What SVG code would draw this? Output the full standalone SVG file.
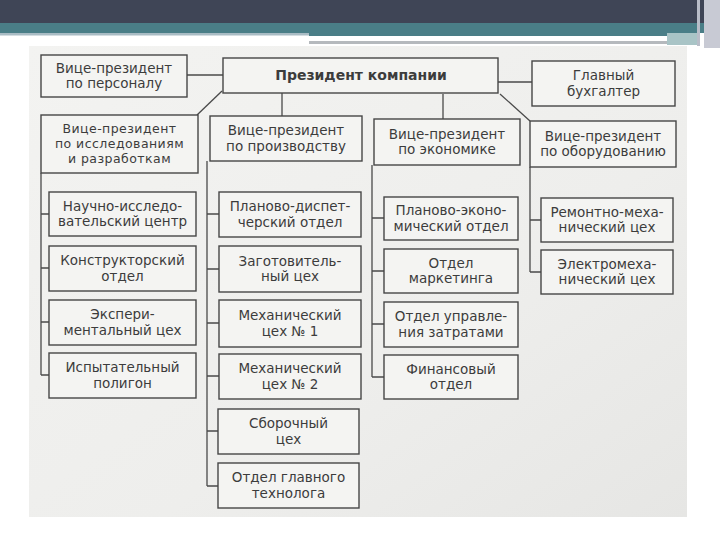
<svg xmlns="http://www.w3.org/2000/svg" width="720" height="540" viewBox="0 0 720 540">
<style>
.box{fill:#f4f4f2;stroke:#464646;stroke-width:1.4}
.t{font-family:"DejaVu Sans","Noto Sans",sans-serif;font-size:13.5px;fill:#3c3c3c;text-anchor:middle}
.b{font-weight:bold;font-size:14px}
.s{font-size:12.5px;letter-spacing:0.45px}
.c{fill:none;stroke:#4a4a4a;stroke-width:1.3}
</style>
<defs>
<linearGradient id="ph" x1="0" y1="0" x2="1" y2="1">
<stop offset="0" stop-color="#f3f3f1"/>
<stop offset="0.6" stop-color="#eeeeec"/>
<stop offset="1" stop-color="#e6e6e4"/>
</linearGradient>
</defs>
<rect width="720" height="540" fill="#ffffff"/>
<g id="header">
<rect x="0" y="0" width="720" height="23" fill="#3f4556"/>
<rect x="0" y="23" width="720" height="10" fill="#4a7e87"/>
<rect x="0" y="33" width="309" height="2.5" fill="#a9bcc4"/>
<rect x="309" y="33" width="358" height="3" fill="#4a7e87"/>
<rect x="309" y="41" width="358" height="3" fill="#b5b9bd"/>
<rect x="667" y="33" width="30" height="12" fill="#a9c4c6"/>
<rect x="697" y="0" width="3" height="46" fill="#b9bdc8"/>
<rect x="704" y="0" width="16" height="48" fill="#c8cad4"/>
</g>
<rect id="photo" x="29" y="46" width="658" height="471" fill="url(#ph)"/>
<g id="connectors">
<path class="c" d="M187 75H223"/>
<path class="c" d="M498 82H532"/>
<path class="c" d="M222 91L197 115"/>
<path class="c" d="M282 93V116"/>
<path class="c" d="M443 94V119"/>
<path class="c" d="M500 94L530 121"/>
<path class="c" d="M41 173V375M41 214H49M41 268H49M41 322H49M41 375H49"/>
<path class="c" d="M207 161V486M207 214H219M207 269H219M207 323H219M207 376H219M207 431H219M207 486H219"/>
<path class="c" d="M372 165V377M372 218H384M372 271H384M372 324H384M372 377H384"/>
<path class="c" d="M530 167V272M530 220H541M530 272H541"/>
</g>
<g id="vp_personnel"><rect class="box" x="41" y="55" width="146" height="42"/><text class="t" x="114" y="72.5">Вице-президент<tspan x="114" y="88">по персоналу</tspan></text></g>
<g id="president"><rect class="box" x="223" y="58" width="275" height="35"/><text class="t b" x="361" y="80">Президент компании</text></g>
<g id="chief_accountant"><rect class="box" x="532" y="61" width="143" height="45"/><text class="t" x="603.5" y="80">Главный<tspan x="603.5" y="95.5">бухгалтер</tspan></text></g>
<g id="vp_research"><rect class="box" x="41" y="115" width="157" height="58"/><text class="t s" x="119.5" y="133">Вице-президент<tspan x="119.5" y="148">по исследованиям</tspan><tspan x="119.5" y="163">и разработкам</tspan></text></g>
<g id="vp_production"><rect class="box" x="210" y="116" width="152" height="45"/><text class="t" x="286" y="135">Вице-президент<tspan x="286" y="150.5">по производству</tspan></text></g>
<g id="vp_economics"><rect class="box" x="374" y="119" width="146" height="46"/><text class="t" x="447" y="138.5">Вице-президент<tspan x="447" y="154">по экономике</tspan></text></g>
<g id="vp_equipment"><rect class="box" x="530" y="121" width="146" height="46"/><text class="t" x="603" y="140.5">Вице-президент<tspan x="603" y="156">по оборудованию</tspan></text></g>
<g id="research_center"><rect class="box" x="49" y="192" width="147" height="44"/><text class="t" x="122.5" y="210.5">Научно-исследо-<tspan x="122.5" y="226">вательский центр</tspan></text></g>
<g id="design_dept"><rect class="box" x="49" y="246" width="147" height="45"/><text class="t" x="122.5" y="265">Конструкторский<tspan x="122.5" y="280.5">отдел</tspan></text></g>
<g id="exp_shop"><rect class="box" x="49" y="300" width="147" height="45"/><text class="t" x="122.5" y="319">Экспери-<tspan x="122.5" y="334.5">ментальный цех</tspan></text></g>
<g id="test_ground"><rect class="box" x="49" y="353" width="147" height="45"/><text class="t" x="122.5" y="372">Испытательный<tspan x="122.5" y="387.5">полигон</tspan></text></g>
<g id="dispatch_dept"><rect class="box" x="219" y="192" width="142" height="45"/><text class="t" x="290" y="211">Планово-диспет-<tspan x="290" y="226.5">черский отдел</tspan></text></g>
<g id="blank_shop"><rect class="box" x="219" y="246" width="142" height="46"/><text class="t" x="290" y="265.5">Заготовитель-<tspan x="290" y="281">ный цех</tspan></text></g>
<g id="mech_shop1"><rect class="box" x="219" y="300" width="142" height="47"/><text class="t" x="290" y="320">Механический<tspan x="290" y="335.5">цех № 1</tspan></text></g>
<g id="mech_shop2"><rect class="box" x="219" y="354" width="142" height="45"/><text class="t" x="290" y="373">Механический<tspan x="290" y="388.5">цех № 2</tspan></text></g>
<g id="assembly_shop"><rect class="box" x="218" y="409" width="141" height="45"/><text class="t" x="288.5" y="428">Сборочный<tspan x="288.5" y="443.5">цех</tspan></text></g>
<g id="chief_technologist"><rect class="box" x="218" y="463" width="141" height="45"/><text class="t" x="288.5" y="482">Отдел главного<tspan x="288.5" y="497.5">технолога</tspan></text></g>
<g id="planning_econ"><rect class="box" x="384" y="197" width="134" height="43"/><text class="t" x="451" y="215">Планово-эконо-<tspan x="451" y="230.5">мический отдел</tspan></text></g>
<g id="marketing"><rect class="box" x="384" y="249" width="134" height="44"/><text class="t" x="451" y="267.5">Отдел<tspan x="451" y="283">маркетинга</tspan></text></g>
<g id="cost_mgmt"><rect class="box" x="384" y="302" width="134" height="45"/><text class="t" x="451" y="321">Отдел управле-<tspan x="451" y="336.5">ния затратами</tspan></text></g>
<g id="finance"><rect class="box" x="384" y="355" width="134" height="44"/><text class="t" x="451" y="373.5">Финансовый<tspan x="451" y="389">отдел</tspan></text></g>
<g id="repair_shop"><rect class="box" x="541" y="198" width="132" height="44"/><text class="t" x="607" y="216.5">Ремонтно-меха-<tspan x="607" y="232">нический цех</tspan></text></g>
<g id="electro_shop"><rect class="box" x="541" y="250" width="132" height="44"/><text class="t" x="607" y="268.5">Электромеха-<tspan x="607" y="284">нический цех</tspan></text></g>
</svg>
